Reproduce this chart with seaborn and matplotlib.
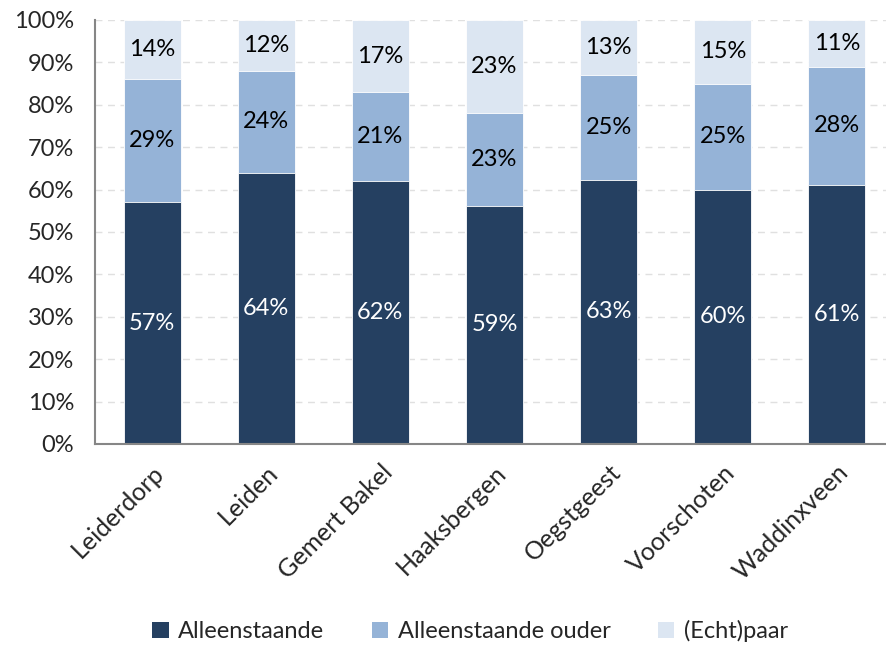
import numpy as np
import pandas as pd
import matplotlib
matplotlib.use("Agg")
import matplotlib.pyplot as plt
import seaborn as sns
from matplotlib.patches import Patch
from matplotlib.ticker import FixedLocator, PercentFormatter

# Data (labels as shown; bars are scaled to 100%)
gemeenten = ["Leiderdorp", "Leiden", "Gemert Bakel", "Haaksbergen",
             "Oegstgeest", "Voorschoten", "Waddinxveen"]
alleenstaande = [57, 64, 62, 59, 63, 60, 61]
alleenstaande_ouder = [29, 24, 21, 23, 25, 25, 28]
echtpaar = [14, 12, 17, 23, 13, 15, 11]

series_names = ["Alleenstaande", "Alleenstaande ouder", "(Echt)paar"]
colors = ["#254061", "#95B3D7", "#DCE6F2"]

sns.set_style("white")
plt.rcParams["font.family"] = ["Lato", "DejaVu Sans"]

df = pd.DataFrame({"gemeente": gemeenten,
                   "a": alleenstaande, "b": alleenstaande_ouder, "c": echtpaar})
total = df["a"] + df["b"] + df["c"]
df["a_n"] = df["a"] / total * 100
df["b_n"] = df["b"] / total * 100
df["c_n"] = df["c"] / total * 100
df["cum1"] = df["a_n"]
df["cum2"] = df["a_n"] + df["b_n"]
df["cum3"] = df["cum2"] + df["c_n"]

fig = plt.figure(figsize=(8.87, 6.48), dpi=100)
ax = fig.add_axes([95 / 887, 204 / 648, 799 / 887, 424 / 648])

# stacked bars: draw cumulative heights from top layer down
for col, color in zip(["cum3", "cum2", "cum1"], colors[::-1]):
    sns.barplot(data=df, x="gemeente", y=col, color=color, width=0.5,
                saturation=1, edgecolor="white", linewidth=0.6, ax=ax, zorder=2)

# data labels
fs = 17
for i, row in df.iterrows():
    ax.text(i, row["a_n"] / 2, f"{row['a']}%", ha="center", va="center",
            color="white", fontsize=fs)
    ax.text(i, row["a_n"] + row["b_n"] / 2, f"{row['b']}%", ha="center",
            va="center", color="black", fontsize=fs)
    ax.text(i, row["cum2"] + row["c_n"] / 2, f"{row['c']}%", ha="center",
            va="center", color="black", fontsize=fs)

ax.set_xlim(-0.5, len(gemeenten) - 0.5)
ax.set_ylim(0, 100)
ax.set_yticks(np.arange(0, 101, 10))
ax.yaxis.set_major_formatter(PercentFormatter(decimals=0))
ax.yaxis.grid(True, color="#E0E0E0", linestyle=(0, (5, 4)), linewidth=1, zorder=0)
ax.set_axisbelow(True)
ax.set_xlabel("")
ax.set_ylabel("")

for s in ["top", "right"]:
    ax.spines[s].set_visible(False)
for s in ["left", "bottom"]:
    ax.spines[s].set_color("#868686")
    ax.spines[s].set_linewidth(1.5)

ax.tick_params(axis="y", direction="out", length=8, width=1.5, color="#868686",
               labelsize=fs, pad=7)
ax.tick_params(axis="x", which="major", length=0, labelsize=18, pad=12)
ax.xaxis.set_minor_locator(FixedLocator(np.arange(-0.5, len(gemeenten), 1)))
ax.tick_params(axis="x", which="minor", direction="out", length=7, width=1.5,
               color="#868686")
ax.set_xticks(range(len(gemeenten)))
ax.set_xticklabels(gemeenten, rotation=45, ha="right", rotation_mode="anchor")

handles = [Patch(facecolor=c, edgecolor="none") for c in colors]
fig.legend(handles, series_names, loc="center", bbox_to_anchor=(0.53, 17 / 648),
           ncol=3, frameon=False, fontsize=fs, handlelength=0.7, handleheight=0.7,
           columnspacing=2.0, handletextpad=0.4)

fig.savefig("out.png", dpi=100)
